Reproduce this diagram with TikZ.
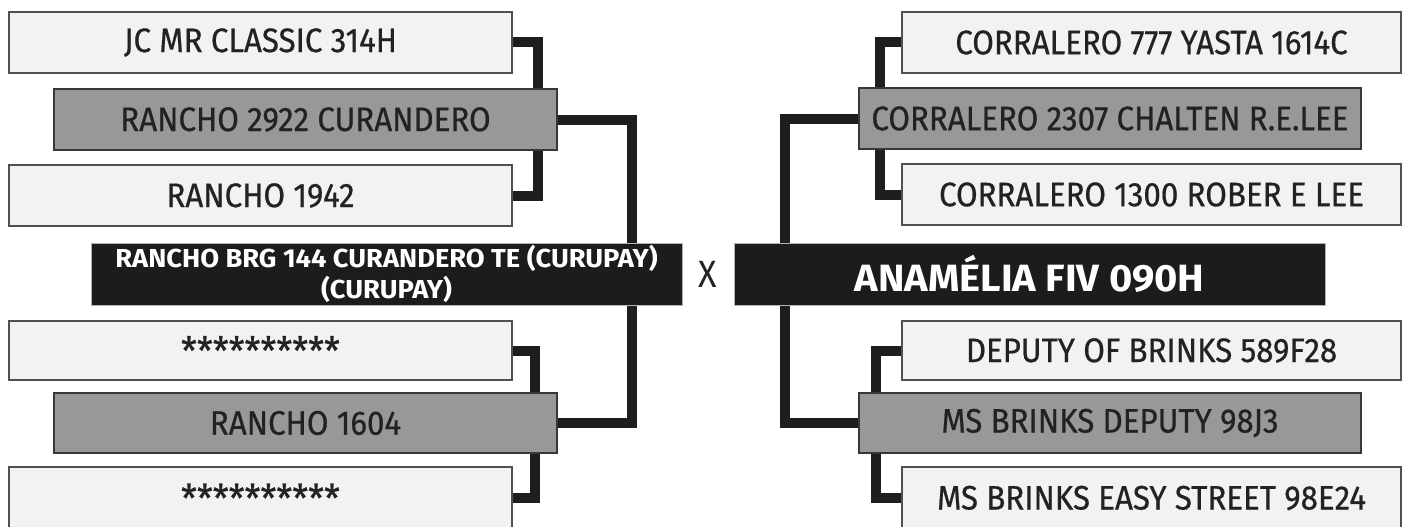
\documentclass[tikz,border=0pt]{standalone}
\usepackage{fontspec}
\setmainfont{Fira Sans}[FakeStretch=0.92, FakeBold=0.6]
\newfontfamily\boldfam{Fira Sans}[FakeStretch=1.05]
\newfontfamily\crossfam{Fira Sans}[FakeStretch=0.9]
\usetikzlibrary{positioning,calc,backgrounds}
\definecolor{lightfill}{HTML}{F2F2F0}
\definecolor{lightdraw}{HTML}{505050}
\definecolor{grayfill}{HTML}{989898}
\definecolor{darkfill}{HTML}{1C1C1C}
\definecolor{linecol}{HTML}{1E1E1E}
\definecolor{textcol}{HTML}{222222}
\newcommand{\stars}{\raisebox{-5pt}{\fontsize{39}{44}\selectfont **********}}
\tikzset{
  boxbase/.style={rectangle, anchor=north west, inner sep=0pt, outer sep=0pt, line width=1.2pt, text=textcol, font=\fontsize{34}{40}\selectfont},
  lbox/.style={boxbase, fill=lightfill, draw=lightdraw, minimum width=503pt, minimum height=61pt},
  gbox/.style={boxbase, fill=grayfill, draw=lightdraw!70!black, minimum width=503pt, minimum height=61pt},
  dbox/.style={rectangle, anchor=north west, inner sep=0pt, outer sep=0pt, fill=darkfill, draw=gray!60, line width=0.8pt, text=white, minimum height=62pt},
  link/.style={draw=linecol, line width=10pt, line cap=butt, line join=miter}
}
\begin{document}
\begin{tikzpicture}[x=1pt,y=-1pt]
\useasboundingbox (0,0) rectangle (1402,527);
% left family
\node[lbox] (b1) at (9,12) {JC MR CLASSIC 314H};
\node[gbox] (b2) at (54,89) {RANCHO 2922 CURANDERO};
\node[lbox] (b3) at (9,165) {RANCHO 1942};
\node[dbox, minimum width=591pt, align=center, font=\boldfam\bfseries\fontsize{26}{31}\selectfont] (L) at (91,243) {RANCHO BRG 144 CURANDERO TE (CURUPAY)\\(CURUPAY)};
\node[lbox, minimum height=59pt] (b4) at (9,321) {\stars};
\node[gbox, minimum height=60pt] (b5) at (54,393) {RANCHO 1604};
\node[lbox, minimum height=62pt] (b6) at (9,467) {\stars};
% right family
\node[lbox, minimum width=499pt] (r1) at (902,12) {CORRALERO 777 YASTA 1614C};
\node[gbox, minimum width=502pt] (r2) at (859,88) {CORRALERO 2307 CHALTEN R.E.LEE};
\node[lbox, minimum width=499pt] (r3) at (902,164) {CORRALERO 1300 ROBER E LEE};
\node[dbox, minimum width=591pt, font=\boldfam\bfseries\fontsize{38}{44}\selectfont] (R) at (734,243) {ANAMÉLIA FIV 090H};
\node[lbox, minimum width=499pt, minimum height=59pt] (r4) at (902,321) {DEPUTY OF BRINKS 589F28};
\node[gbox, minimum width=502pt, minimum height=60pt] (r5) at (859,393) {MS BRINKS DEPUTY 98J3};
\node[lbox, minimum width=499pt, minimum height=62pt] (r6) at (902,467) {MS BRINKS EASY STREET 98E24};
% cross
\node[text=textcol, font=\crossfam\fontsize{38}{44}\selectfont, inner sep=0pt] (x) at ($(L.east)!0.5!(R.west)$) {X};
% connectors (behind boxes)
\begin{scope}[on background layer]
\draw[link] (b1.east) -| ([xshift=-19pt]b2.north east);
\draw[link] ([xshift=-19pt]b2.south east) |- (b3.east);
\draw[link] (b2.east) -| ([xshift=-50pt]L.north east);
\draw[link] ([xshift=-50pt]L.south east) |- (b5.east);
\draw[link] (b4.east) -| ([xshift=-22pt]b5.north east);
\draw[link] ([xshift=-22pt]b5.south east) |- (b6.east);
\draw[link] (r1.west) -| ([xshift=21pt]r2.north west);
\draw[link] ([xshift=21pt]r2.south west) |- (r3.west);
\draw[link] (r2.west) -| ([xshift=51pt]R.north west);
\draw[link] ([xshift=51pt]R.south west) |- (r5.west);
\draw[link] (r4.west) -| ([xshift=17pt]r5.north west);
\draw[link] ([xshift=17pt]r5.south west) |- (r6.west);
\end{scope}
\end{tikzpicture}
\end{document}
